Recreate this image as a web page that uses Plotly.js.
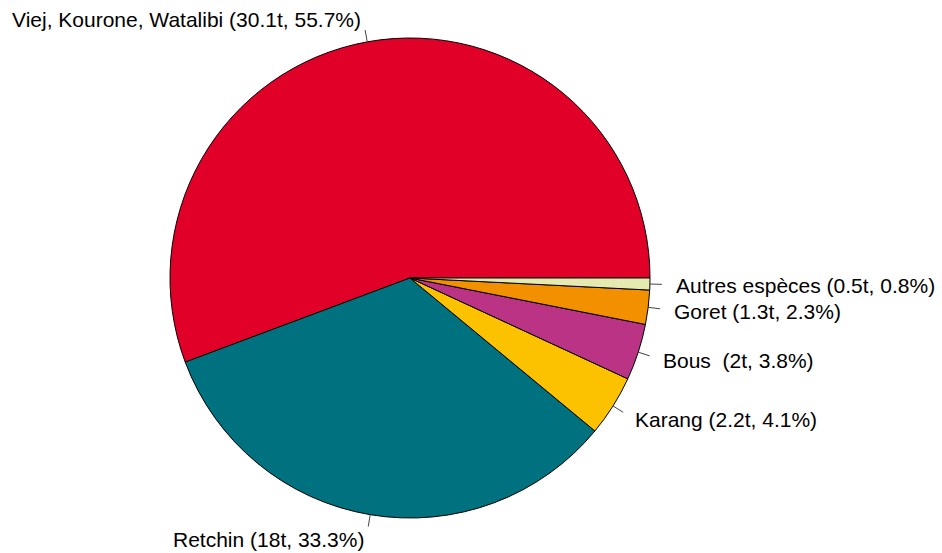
<!DOCTYPE html>
<html>
<head>
<meta charset="utf-8">
<script src="https://cdn.plot.ly/plotly-3.0.1.min.js"></script>
<style>html,body{margin:0;padding:0;background:#fff;}#chart{width:942px;height:553px;}</style>
</head>
<body>
<div id="chart"></div>
<script>
// Data
const species = ["Viej, Kourone, Watalibi", "Retchin", "Karang", "Bous ", "Goret", "Autres espèces"];
const tonnes = ["30.1", "18", "2.2", "2", "1.3", "0.5"];
const percents = [55.7, 33.3, 4.1, 3.8, 2.3, 0.8];
const colors = ["#E00028", "#00717F", "#FCC200", "#BB3385", "#F39000", "#E5EBB0"];

// Layout geometry
const W = 942, H = 553;
const cx = 410, cy = 278, R = 240;

const labels = species.map((s, i) => s.replace(/ $/, "\u00A0") + " (" + tonnes[i] + "t, " + percents[i].toFixed(1) + "%)");

const total = percents.reduce((a, b) => a + b, 0);
const annotations = [];
const shapes = [];
let cum = 0;
percents.forEach((v, i) => {
  const mid = (cum + v / 2) / total * 2 * Math.PI;
  cum += v;
  const c = Math.cos(mid), s = Math.sin(mid);
  const x0 = cx + R * c, y0 = cy - R * s;
  const x1 = cx + 1.05 * R * c, y1 = cy - 1.05 * R * s;
  const xt = cx + 1.1 * R * c, yt = cy - 1.1 * R * s;
  shapes.push({type: "line", xref: "paper", yref: "paper",
    x0: x0 / W, y0: 1 - y0 / H, x1: x1 / W, y1: 1 - y1 / H,
    line: {color: "#444", width: 1}});
  annotations.push({xref: "paper", yref: "paper", x: xt / W, y: 1 - (yt + 1) / H,
    text: labels[i], showarrow: false, xanchor: c > 0 ? "left" : "right", yanchor: "middle",
    font: {family: "Liberation Sans, Arial, sans-serif", size: 21, color: "#000"}});
});

// In counterclockwise mode Plotly's rotation marks the end of the first slice;
// shift it so the first slice starts at 3 o'clock like R's pie().
const rot = 90 - percents[0] / total * 360;

const trace = {
  type: "pie",
  labels: labels,
  values: percents,
  sort: false,
  direction: "counterclockwise",
  rotation: rot,
  textinfo: "none",
  hoverinfo: "label",
  marker: {colors: colors, line: {color: "#000", width: 1}},
  domain: {x: [(cx - R) / W, (cx + R) / W], y: [1 - (cy + R) / H, 1 - (cy - R) / H]}
};

const layout = {
  width: W, height: H,
  margin: {l: 0, r: 0, t: 0, b: 0},
  showlegend: false,
  paper_bgcolor: "#fff",
  annotations: annotations,
  shapes: shapes
};

Plotly.newPlot("chart", [trace], layout, {displayModeBar: false, staticPlot: true});
</script>
</body>
</html>
